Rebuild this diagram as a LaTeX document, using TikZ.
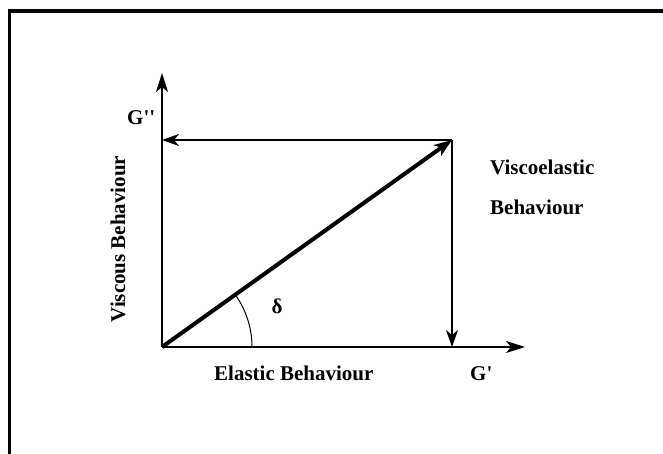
\documentclass[tikz,border=0pt]{standalone}
\usepackage{fontspec}
\setmainfont{Liberation Serif}
\usetikzlibrary{arrows.meta,positioning}
\tikzset{
  lbl/.style={inner sep=0pt,font=\fontsize{21}{24}\selectfont\bfseries},
  axis/.style={-{Stealth[length=19pt,width=12pt,inset=5pt]},line width=2pt},
  comp/.style={-{Stealth[length=17pt,width=12pt,inset=5pt]},line width=1.5pt},
  vec/.style={-{Stealth[length=18pt,width=13pt,inset=5pt]},line width=4pt},
}
\begin{document}
\begin{tikzpicture}[x=1pt,y=1pt]
  \useasboundingbox[fill=white] (0,0) rectangle (663,454);
  % frame
  \draw[line width=3.5pt] (9.5,-5) -- (9.5,443) -- (670,443);
  % axes and points
  \coordinate (o) at (162,107);
  \coordinate (ytip) at (162,381);
  \coordinate (xtip) at (525,107);
  \coordinate (p) at (452,314);
  \coordinate (pl) at (162,314);
  \coordinate (pd) at (452,107);
  \draw[axis] (o) -- (ytip);
  \draw[axis] (o) -- (xtip);
  \draw[comp] (p) -- (pl);
  \draw[comp] (p) -- (pd);
  \draw[vec] (o) -- (p);
  % angle
  \draw[line width=1pt] ([xshift=90pt]o) arc[start angle=0,end angle=35.5,radius=90];
  \node[lbl] (delta) at (277,148) {δ};
  % labels
  \node[lbl,anchor=base west] (gpp) at (127,329) {G\textquotesingle\textquotesingle};
  \node[lbl,anchor=base west] (visco) at (490,279) {Viscoelastic};
  \node[lbl,anchor=base west] (behav) at (490,239) {Behaviour};
  \node[lbl,anchor=base west] (elastic) at (214,73) {Elastic Behaviour};
  \node[lbl,anchor=base west] (gp) at (470,73) {G\textquotesingle};
  \node[lbl,rotate=90,anchor=base] (viscous) at (125,215) {Viscous Behaviour};
\end{tikzpicture}
\end{document}
